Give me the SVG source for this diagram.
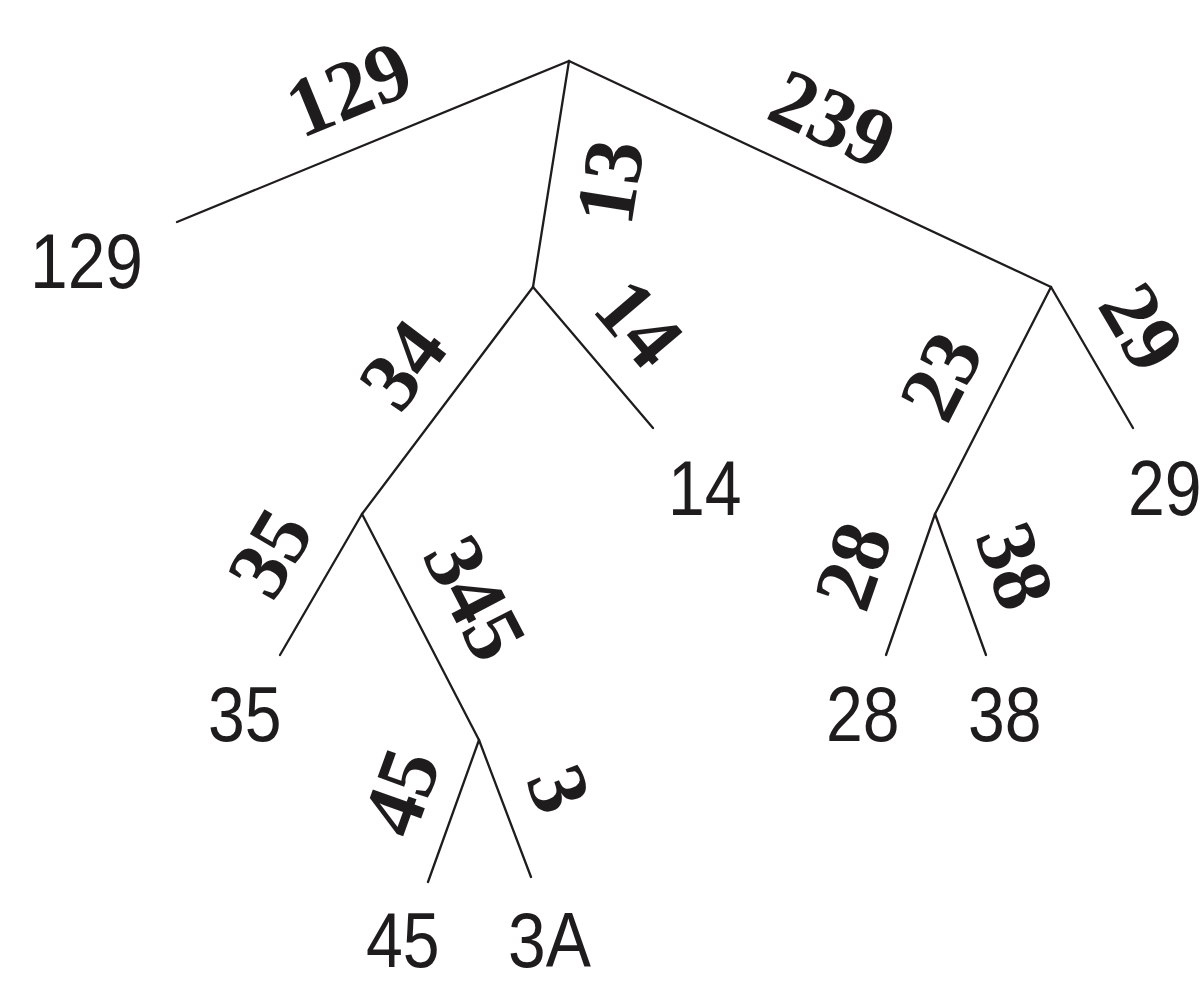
<svg xmlns="http://www.w3.org/2000/svg" width="1204" height="988" viewBox="0 0 1204 988">
<style>
.e{stroke:#1f1c1d;stroke-width:2.3;fill:none;stroke-linecap:round}
.el{font-family:"Liberation Serif",serif;font-weight:bold;font-size:84px;fill:#1f1c1d;text-anchor:middle}
.lf{font-family:"Liberation Sans",sans-serif;font-size:77px;fill:#1f1c1d}
</style>
<rect width="1204" height="988" fill="#fff"/>
<g id="connectors">
<line class="e" x1="569" y1="61" x2="177" y2="222"/>
<line class="e" x1="569" y1="61" x2="533" y2="287"/>
<line class="e" x1="569" y1="61" x2="1051" y2="287"/>
<line class="e" x1="533" y1="287" x2="362" y2="514"/>
<line class="e" x1="533" y1="287" x2="653" y2="428"/>
<line class="e" x1="362" y1="514" x2="280" y2="655"/>
<line class="e" x1="362" y1="514" x2="479" y2="740"/>
<line class="e" x1="479" y1="740" x2="428" y2="882"/>
<line class="e" x1="479" y1="740" x2="531" y2="877"/>
<line class="e" x1="1051" y1="287" x2="935" y2="514"/>
<line class="e" x1="1051" y1="287" x2="1133" y2="428"/>
<line class="e" x1="935" y1="514" x2="886" y2="655"/>
<line class="e" x1="935" y1="514" x2="986" y2="655"/>
</g>
<g id="edge-labels">
<text class="el" transform="translate(349,89) rotate(-22.3)" y="28">129</text>
<text class="el" transform="translate(610,182) rotate(-81)" y="28">13</text>
<text class="el" transform="translate(833,119) rotate(25.2)" y="28">239</text>
<text class="el" transform="translate(403,365) rotate(-53)" y="28">34</text>
<text class="el" transform="translate(639,323) rotate(49.6)" y="28">14</text>
<text class="el" transform="translate(941,376) rotate(-63)" y="28">23</text>
<text class="el" transform="translate(1142,327) rotate(59.5)" y="28">29</text>
<text class="el" transform="translate(270,553) rotate(-59.3)" y="28">35</text>
<text class="el" transform="translate(475,598) rotate(62.6)" y="28">345</text>
<text class="el" transform="translate(853,566) rotate(-70.8)" y="28">28</text>
<text class="el" transform="translate(1015,566) rotate(70.1)" y="28">38</text>
<text class="el" transform="translate(401,792) rotate(-70.2)" y="28">45</text>
<text class="el" transform="translate(559,789) rotate(69.2)" y="28">3</text>
</g>
<g id="leaf-129"><text class="lf" transform="translate(30,288) scale(0.88,1)">129</text></g>
<g id="leaf-14"><text class="lf" transform="translate(668,515) scale(0.86,1)">14</text></g>
<g id="leaf-29"><text class="lf" transform="translate(1128,515) scale(0.86,1)">29</text></g>
<g id="leaf-35"><text class="lf" transform="translate(208,741) scale(0.86,1)">35</text></g>
<g id="leaf-28"><text class="lf" transform="translate(826,741) scale(0.86,1)">28</text></g>
<g id="leaf-38"><text class="lf" transform="translate(968,741) scale(0.86,1)">38</text></g>
<g id="leaf-45"><text class="lf" transform="translate(366,967) scale(0.86,1)">45</text></g>
<g id="leaf-3A"><text class="lf" transform="translate(508,967) scale(0.88,1)">3A</text></g>
</svg>
